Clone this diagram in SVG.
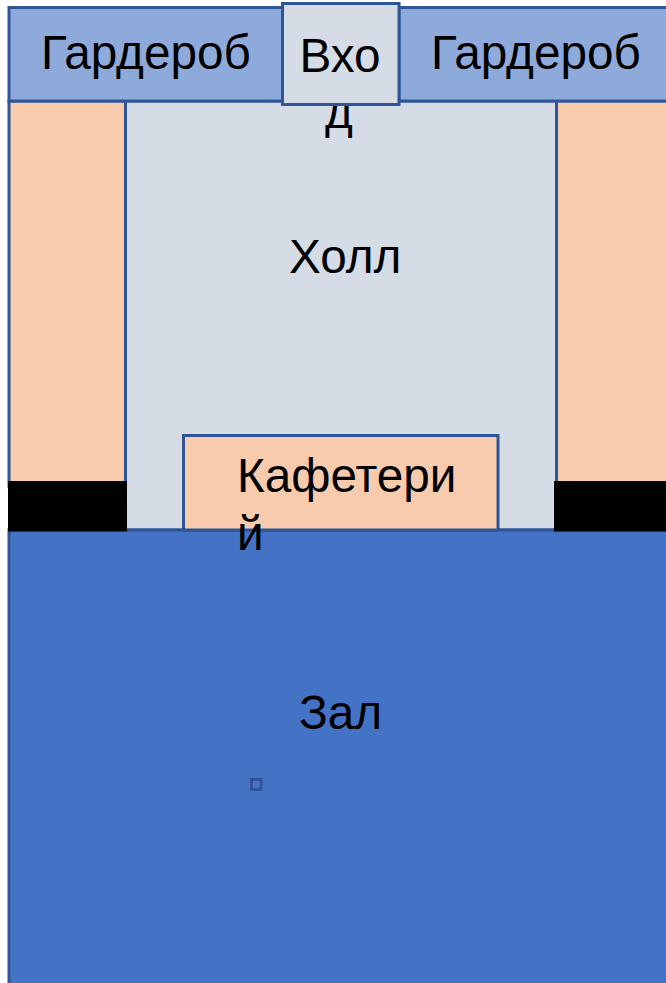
<svg xmlns="http://www.w3.org/2000/svg" width="666" height="983" viewBox="0 0 666 983">
<style>
.s{stroke:#2f5597;stroke-width:3}
.w{fill:#8eaadb}.h{fill:#d5dce6}.p{fill:#f8cbad}.z{fill:#4472c4}.b{fill:#000}
text{font-family:"Liberation Sans",Arial,sans-serif;font-size:47.700px;fill:#000}
</style>
<rect width="666" height="983" fill="#fff"/>
<g id="hall"><rect class="s h" x="125.500" y="101" width="431" height="429"/><text x="289" y="273">Холл</text></g>
<g id="left-room"><rect class="s p" x="9" y="101" width="116.500" height="385"/></g>
<g id="right-room"><rect class="s p" x="556.500" y="101" width="125" height="385"/></g>
<g id="hall-main"><rect class="s z" x="9" y="530" width="680" height="470"/><text x="299" y="729">Зал</text></g>
<g id="left-wardrobe"><rect class="s w" x="9" y="7.500" width="274" height="93.500"/><text x="41" y="69">Гардероб</text></g>
<g id="right-wardrobe"><rect class="s w" x="399" y="7.500" width="280" height="93.500"/><text x="431" y="69">Гардероб</text></g>
<g id="entrance"><text x="325" y="128">д</text><rect class="s h" x="282.500" y="3.500" width="116.500" height="101"/><text x="299.500" y="72">Вхо</text></g>
<g id="cafeteria"><rect class="s p" x="183.500" y="435.500" width="314.500" height="94.500"/><text x="237" y="492">Кафетери</text><text x="237" y="550">й</text></g>
<g id="left-block"><rect class="b" x="8" y="481" width="119" height="50.500"/></g>
<g id="right-block"><rect class="b" x="554" y="481" width="112" height="50.500"/></g>
<g id="marker"><rect x="251.500" y="779.500" width="9.500" height="10" fill="none" stroke="#2f5597" stroke-width="3"/></g>
<g id="connectors"></g>
</svg>
